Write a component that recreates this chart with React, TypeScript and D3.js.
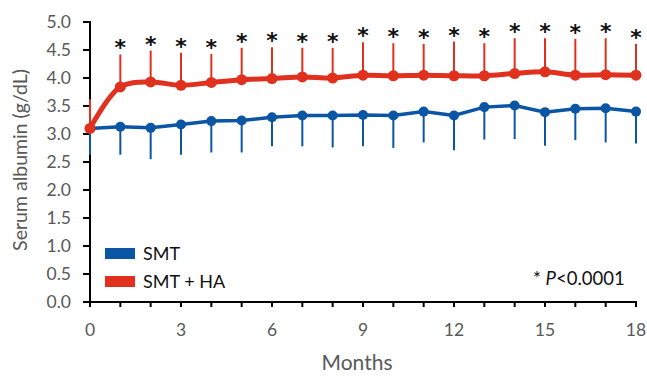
import React from "react";
import * as d3 from "d3";

const months = [0, 1, 2, 3, 4, 5, 6, 7, 8, 9, 10, 11, 12, 13, 14, 15, 16, 17, 18];
const smtMean = [3.1, 3.13, 3.11, 3.17, 3.23, 3.24, 3.3, 3.33, 3.33, 3.34, 3.33, 3.4, 3.33, 3.48, 3.51, 3.39, 3.45, 3.46, 3.4];
const smtLower = [2.63, 2.63, 2.55, 2.63, 2.67, 2.67, 2.78, 2.78, 2.76, 2.78, 2.75, 2.85, 2.71, 2.9, 2.91, 2.79, 2.89, 2.85, 2.83];
const haMean = [3.1, 3.84, 3.93, 3.87, 3.92, 3.97, 3.99, 4.02, 4.0, 4.05, 4.04, 4.05, 4.04, 4.04, 4.08, 4.11, 4.05, 4.06, 4.05];
const haUpper = [3.62, 4.42, 4.49, 4.45, 4.43, 4.54, 4.55, 4.54, 4.54, 4.64, 4.62, 4.61, 4.65, 4.62, 4.71, 4.71, 4.7, 4.71, 4.61];
const significant = [false, true, true, true, true, true, true, true, true, true, true, true, true, true, true, true, true, true, true];
const yTicks = [0, 0.5, 1, 1.5, 2, 2.5, 3, 3.5, 4, 4.5, 5];
const xLabelTicks = [0, 3, 6, 9, 12, 15, 18];
const seriesNames = ["SMT", "SMT + HA"];

const RED = "#E0301E";
const BLUE = "#0A55A4";
const FONT = "Lato, 'Open Sans', sans-serif";

export default function App() {
  const W = 647, H = 379;
  const x = d3.scaleLinear().domain([0, 18]).range([90, 636]);
  const y = d3.scaleLinear().domain([0, 5]).range([302, 22]);

  const blueLine = d3.line<number>().x((_, i) => x(months[i])).y((d) => y(d));
  const redLine = d3.line<number>().x((_, i) => x(months[i])).y((d) => y(d)).curve(d3.curveCatmullRom.alpha(0.5));

  return (
    <svg width={W} height={H} style={{ position: "absolute", left: 0, top: 0, background: "#fff" }} fontFamily={FONT}>
      {/* y axis title */}
      <text transform={`translate(27,160) rotate(-90)`} textAnchor="middle" fontSize={19.5} fill="#595959">
        Serum albumin (g/dL)
      </text>
      {/* x axis title */}
      <text x={357} y={370} textAnchor="middle" fontSize={21} fill="#595959">Months</text>

      {/* y ticks */}
      {yTicks.map((t) => (
        <g key={"y" + t}>
          <line x1={83} x2={90} y1={y(t)} y2={y(t)} stroke="#000" strokeWidth={2} />
          <text x={71} y={y(t) + 6} textAnchor="end" fontSize={17.5} fill="#595959">{t.toFixed(1)}</text>
        </g>
      ))}
      {/* x ticks */}
      {months.map((m) => (
        <line key={"xt" + m} x1={x(m)} x2={x(m)} y1={302} y2={307} stroke="#000" strokeWidth={2} />
      ))}
      {xLabelTicks.map((m) => (
        <text key={"xl" + m} x={x(m)} y={336} textAnchor="middle" fontSize={17.5} fill="#595959">{m}</text>
      ))}
      {/* axes */}
      <line x1={90} x2={90} y1={21} y2={303} stroke="#000" strokeWidth={2} />
      <line x1={89} x2={637} y1={302} y2={302} stroke="#000" strokeWidth={2} />

      {/* error bars */}
      {months.map((m, i) => (
        <line key={"eb" + m} x1={x(m)} x2={x(m)} y1={y(smtMean[i])} y2={y(smtLower[i])} stroke={BLUE} strokeWidth={2} />
      ))}
      {months.map((m, i) => (
        <line key={"er" + m} x1={x(m)} x2={x(m)} y1={y(haMean[i])} y2={y(haUpper[i])} stroke={RED} strokeWidth={2} />
      ))}

      {/* lines */}
      <path d={blueLine(smtMean) || ""} fill="none" stroke={BLUE} strokeWidth={3.5} />
      {smtMean.map((v, i) => (
        <circle key={"cb" + i} cx={x(months[i])} cy={y(v)} r={5} fill={BLUE} />
      ))}
      <path d={redLine(haMean) || ""} fill="none" stroke={RED} strokeWidth={5} />
      {haMean.map((v, i) => (
        <circle key={"cr" + i} cx={x(months[i])} cy={y(v)} r={5.5} fill={RED} />
      ))}

      {/* asterisks */}
      {months.map((m, i) =>
        significant[i] ? (
          <text key={"as" + m} x={x(m)} y={y(haUpper[i]) + 1} textAnchor="middle" fontSize={22} fontWeight="bold" fontFamily="'DejaVu Sans', sans-serif" fill="#111">*</text>
        ) : null
      )}

      {/* legend */}
      <rect x={105} y={248} width={30} height={11} fill={BLUE} />
      <text x={143} y={260} fontSize={18} fill="#111">{seriesNames[0]}</text>
      <rect x={105} y={276} width={30} height={11} fill={RED} />
      <text x={143} y={288} fontSize={18} fill="#111">{seriesNames[1]}</text>

      <text x={533} y={285} fontSize={18.5} fill="#111">
        * <tspan fontStyle="italic">P</tspan>&lt;0.0001
      </text>
    </svg>
  );
}
